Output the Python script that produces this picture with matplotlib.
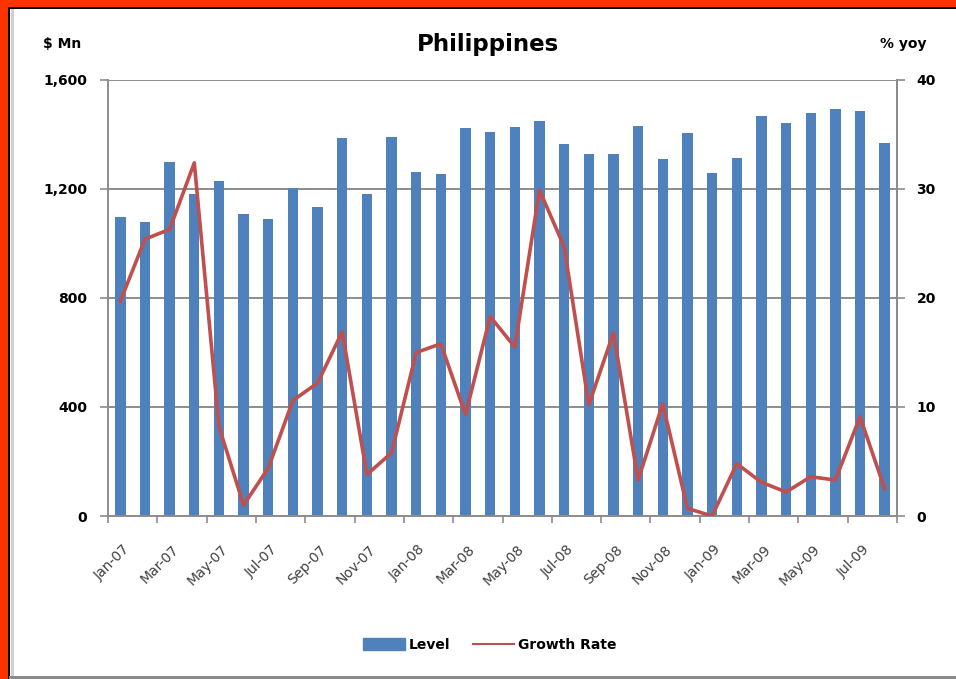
import matplotlib.pyplot as plt
import numpy as np
from matplotlib.patches import Rectangle, Patch
from matplotlib.lines import Line2D

months = ['Jan-07', 'Feb-07', 'Mar-07', 'Apr-07', 'May-07', 'Jun-07', 'Jul-07', 'Aug-07',
          'Sep-07', 'Oct-07', 'Nov-07', 'Dec-07', 'Jan-08', 'Feb-08', 'Mar-08', 'Apr-08',
          'May-08', 'Jun-08', 'Jul-08', 'Aug-08', 'Sep-08', 'Oct-08', 'Nov-08', 'Dec-08',
          'Jan-09', 'Feb-09', 'Mar-09', 'Apr-09', 'May-09', 'Jun-09', 'Jul-09', 'Aug-09']
level = [1096, 1078, 1300, 1181, 1231, 1107, 1089, 1203, 1133, 1386, 1182, 1392,
         1261, 1255, 1425, 1408, 1426, 1451, 1364, 1328, 1328, 1432, 1310, 1404,
         1260, 1315, 1469, 1441, 1478, 1494, 1486, 1370]
growth = [19.7, 25.4, 26.3, 32.4, 8.2, 1.0, 4.4, 10.6, 12.2, 16.9, 3.8, 5.8,
          15.0, 15.8, 9.3, 18.3, 15.5, 29.9, 24.7, 10.2, 16.8, 3.3, 10.3, 0.7,
          0.0, 4.8, 3.1, 2.2, 3.6, 3.3, 9.1, 2.5]
left_ticks = [0, 400, 800, 1200, 1600]
left_labels = ['0', '400', '800', '1,200', '1,600']
right_ticks = [0, 10, 20, 30, 40]

W, H = 956, 679
bar_col = '#4F81BD'
line_col = '#C0504D'
grey = '#8C8C8C'

plt.rcParams['font.family'] = 'DejaVu Sans'

fig = plt.figure(figsize=(W / 100, H / 100), dpi=100)

# outer frame
fig.add_artist(Rectangle((0, 0), 8 / W, 1, transform=fig.transFigure, color='#FF3300', lw=0))
fig.add_artist(Rectangle((0, 1 - 7 / H), 1, 7 / H, transform=fig.transFigure, color='#FF3300', lw=0))
fig.add_artist(Rectangle((8 / W, 0), 1.5 / W, 1 - 7 / H, transform=fig.transFigure, color='black', lw=0))
fig.add_artist(Rectangle((8 / W, 1 - 9 / H), 1 - 8 / W, 2 / H, transform=fig.transFigure, color='black', lw=0))
fig.add_artist(Rectangle((11 / W, 0), 3 / W, 1 - 9 / H, transform=fig.transFigure, color='#D0D0D0', lw=0))
fig.add_artist(Rectangle((9 / W, 0), 1 - 9 / W, 3 / H, transform=fig.transFigure, color='#8A8A8A', lw=0))

ax = fig.add_axes([108 / W, 1 - 516 / H, (897 - 108) / W, (516 - 80) / H])
x = np.arange(len(months))
ax.bar(x, level, width=0.42, color=bar_col, zorder=2)
ax.set_xlim(-0.5, len(months) - 0.5)
ax.set_ylim(0, 1600)
ax.set_yticks(left_ticks)
ax.set_yticklabels(left_labels, fontsize=10, fontweight='bold')
ax.grid(axis='y', color=grey, lw=1.4, zorder=0)

ax.set_xticks(np.arange(-0.5, len(months), 2))
ax.set_xticklabels([])
ax.set_xticks(x[::2] + 0.08, minor=True)
ax.set_xticklabels(months[::2], minor=True, rotation=45, ha='right',
                   rotation_mode='anchor', fontsize=10, color='#404040')
ax.tick_params(axis='x', which='major', direction='out', length=5, color=grey, width=1.2)
ax.tick_params(axis='x', which='minor', length=0, pad=19)
ax.tick_params(axis='y', direction='out', length=6, color=grey, width=1.2, pad=9)

ax.spines['top'].set_visible(False)
for s in ['left', 'right', 'bottom']:
    ax.spines[s].set_color(grey)
    ax.spines[s].set_linewidth(1.4)

ax2 = ax.twinx()
ax2.plot(x, growth, color=line_col, lw=2.6, zorder=3)
ax2.set_ylim(0, 40)
ax2.set_yticks(right_ticks)
ax2.set_yticklabels([str(t) for t in right_ticks], fontsize=10, fontweight='bold')
ax2.tick_params(axis='y', direction='out', length=6, color=grey, width=1.2, pad=8)
for s in ['top', 'left', 'bottom']:
    ax2.spines[s].set_visible(False)
ax2.spines['right'].set_color(grey)
ax2.spines['right'].set_linewidth(1.4)

fig.text(488 / W, 1 - 44 / H, 'Philippines', ha='center', va='center', fontsize=16.5, fontweight='bold')
fig.text(62 / W, 1 - 44 / H, '$ Mn', ha='center', va='center', fontsize=10, fontweight='bold')
fig.text(903 / W, 1 - 44 / H, '% yoy', ha='center', va='center', fontsize=10, fontweight='bold')

handles = [Patch(color=bar_col, label='Level'),
           Line2D([], [], color=line_col, lw=1.5, label='Growth Rate')]
fig.legend(handles=handles, loc='center', bbox_to_anchor=(490 / W, 1 - 645 / H), ncol=2,
           frameon=False, prop={'size': 10, 'weight': 'bold'}, handlelength=3,
           handleheight=0.9, handletextpad=0.3, columnspacing=1.6)

fig.savefig('out.png', dpi=100)
